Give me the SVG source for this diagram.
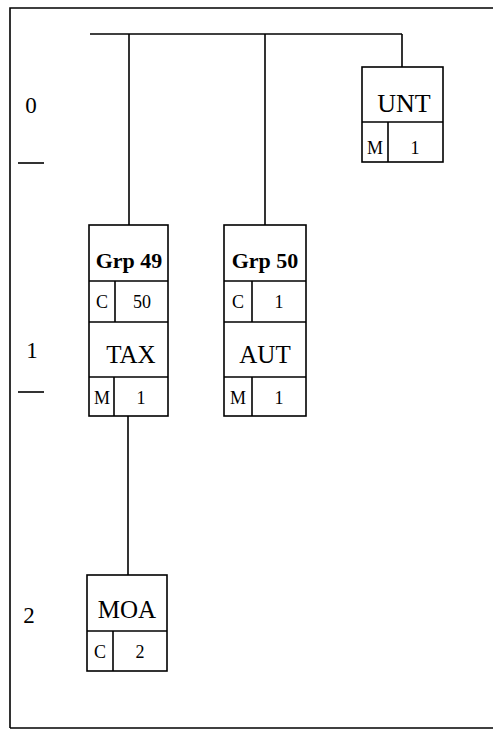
<svg xmlns="http://www.w3.org/2000/svg" width="493" height="730" viewBox="0 0 493 730">
<style>
.bx{fill:#fff;stroke:#000;stroke-width:1.6}
.ln{stroke:#000;stroke-width:1.6;fill:none}
.t{font-family:'Liberation Serif','DejaVu Serif',serif;fill:#000;text-anchor:middle}
.big{font-size:25px}
.bold{font-size:22px;font-weight:bold}
.sm{font-size:18px}
.lvl{font-size:23px}
</style>
<rect width="493" height="730" fill="#fff"/>
<g id="frame">
<path class="ln" d="M10,728 L10,8 L493,8" stroke-width="1.2"/>
<path class="ln" d="M10,728 L493,728" stroke-width="1.2"/>
</g>
<g id="levels">
<text class="t lvl" x="31" y="113">0</text>
<line class="ln" x1="18" y1="163" x2="44" y2="163" stroke-width="1"/>
<text class="t lvl" x="32" y="358">1</text>
<line class="ln" x1="18" y1="392" x2="44" y2="392" stroke-width="1"/>
<text class="t lvl" x="29" y="623">2</text>
</g>
<g id="connectors">
<line class="ln" x1="90" y1="34" x2="402" y2="34" stroke-width="2"/>
<line class="ln" x1="402" y1="34" x2="402" y2="67" stroke-width="1.2"/>
<line class="ln" x1="129" y1="34" x2="129" y2="225" stroke-width="1.6"/>
<line class="ln" x1="265" y1="34" x2="265" y2="225" stroke-width="1.6"/>
<line class="ln" x1="128" y1="416" x2="128" y2="575" stroke-width="1.4"/>
</g>
<g id="UNT">
<rect class="bx" x="362" y="67" width="81" height="95"/>
<line class="ln" x1="362" y1="122" x2="443" y2="122"/>
<line class="ln" x1="388" y1="122" x2="388" y2="162"/>
<text class="t big" x="404" y="112" style="font-size:26px">UNT</text>
<text class="t sm" x="375" y="154">M</text>
<text class="t sm" x="415" y="154">1</text>
</g>
<g id="Grp49">
<rect class="bx" x="89" y="225" width="79" height="191"/>
<line class="ln" x1="89" y1="281" x2="168" y2="281"/>
<line class="ln" x1="115" y1="281" x2="115" y2="322"/>
<line class="ln" x1="89" y1="322" x2="168" y2="322"/>
<line class="ln" x1="89" y1="377" x2="168" y2="377"/>
<line class="ln" x1="114" y1="377" x2="114" y2="416"/>
<text class="t bold" x="129" y="268">Grp 49</text>
<text class="t sm" x="102" y="308">C</text>
<text class="t sm" x="142" y="308">50</text>
<text class="t big" x="131" y="363">TAX</text>
<text class="t sm" x="102" y="404">M</text>
<text class="t sm" x="141" y="404">1</text>
</g>
<g id="Grp50">
<rect class="bx" x="224" y="225" width="82" height="191"/>
<line class="ln" x1="224" y1="281" x2="306" y2="281"/>
<line class="ln" x1="252" y1="281" x2="252" y2="322"/>
<line class="ln" x1="224" y1="322" x2="306" y2="322"/>
<line class="ln" x1="224" y1="377" x2="306" y2="377"/>
<line class="ln" x1="252" y1="377" x2="252" y2="416"/>
<text class="t bold" x="265" y="268">Grp 50</text>
<text class="t sm" x="238" y="308">C</text>
<text class="t sm" x="279" y="308">1</text>
<text class="t big" x="265" y="363">AUT</text>
<text class="t sm" x="238" y="404">M</text>
<text class="t sm" x="279" y="404">1</text>
</g>
<g id="MOA">
<rect class="bx" x="87" y="575" width="80" height="96"/>
<line class="ln" x1="87" y1="631" x2="167" y2="631"/>
<line class="ln" x1="113" y1="631" x2="113" y2="671"/>
<text class="t big" x="127" y="618">MOA</text>
<text class="t sm" x="100" y="658">C</text>
<text class="t sm" x="140" y="658">2</text>
</g>
</svg>
